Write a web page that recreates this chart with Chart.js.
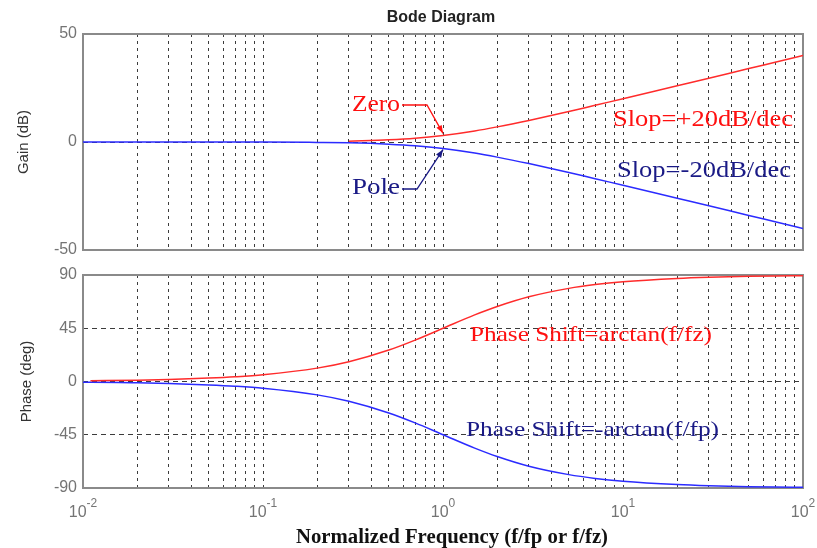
<!DOCTYPE html>
<html>
<head>
<meta charset="utf-8">
<script src="https://cdn.jsdelivr.net/npm/chart.js@4.4.0/dist/chart.umd.min.js"></script>
<style>
  body { margin: 0; background: #fff; }
  #wrap { position: relative; width: 817px; height: 548px; }
  #wrap canvas { position: absolute; left: 0; top: 0; }
</style>
</head>
<body>
<div id="wrap">
  <canvas id="gainChart" width="817" height="548"></canvas>
  <canvas id="phaseChart" width="817" height="548"></canvas>
</div>
<script>
// ---------------- Data ----------------
const freq      = [0.01, 0.011, 0.02, 0.03, 0.05, 0.07, 0.1, 0.2, 0.3, 0.5, 0.7, 1, 1.5, 2, 3, 5, 7, 10, 20, 30, 50, 70, 100];
const zeroGain  = [null, null, null, null, null, null, null, null, 0.4, 1.0, 1.7, 3.0, 5.1, 7.0, 10.0, 14.1, 17.0, 20.0, 26.0, 29.5, 34.0, 36.9, 40.0];
const poleGain  = [0, 0, 0, 0, 0, 0, 0, -0.2, -0.4, -1.0, -1.7, -3.0, -5.1, -7.0, -10.0, -14.1, -17.0, -20.0, -26.0, -29.5, -34.0, -36.9, -40.0];
const zeroPhase = [null, 0.6, 1.1, 1.7, 2.9, 4.0, 5.7, 11.3, 16.7, 26.6, 35.0, 45.0, 56.3, 63.4, 71.6, 78.7, 81.9, 84.3, 87.1, 88.1, 88.9, 89.2, 89.4];
const polePhase = [-0.6, -0.6, -1.1, -1.7, -2.9, -4.0, -5.7, -11.3, -16.7, -26.6, -35.0, -45.0, -56.3, -63.4, -71.6, -78.7, -81.9, -84.3, -87.1, -88.1, -88.9, -89.2, -89.4];

const gainTicks = [-50, 0, 50];
const phaseTicks = [-90, -45, 0, 45, 90];
const decadeTicks = [0.01, 0.1, 1, 10, 100];
const decadeExponents = ["-2", "-1", "0", "1", "2"];

// ---------------- Styles ----------------
const RED = "#ff2b2b";
const BLUE = "#2b2bff";
const TXT_RED = "#ff1010";
const TXT_BLUE = "#1a1a86";
const GRID = "#3c3c3c";
const FRAME = "#8a8a8a";
const TICK_TXT = "#747474";
const SANS = "'Liberation Sans', Arial, sans-serif";
const SERIF = "'Liberation Serif', 'Times New Roman', serif";

// minor + major grid positions for the log axis
const xGrid = [];
decadeTicks.forEach((d, i) => {
  if (i === decadeTicks.length - 1) { xGrid.push(d); return; }
  for (let k = 1; k <= 9; k++) xGrid.push(+(k * d).toPrecision(3));
});

const pts = ys => freq.map((f, i) => ({ x: f, y: ys[i] }));

// ---------------- Helpers for drawing ----------------
function drawFrame(chart) {
  const { ctx, chartArea: a } = chart;
  ctx.save();
  ctx.strokeStyle = FRAME;
  ctx.lineWidth = 2;
  ctx.strokeRect(a.left, a.top, a.right - a.left, a.bottom - a.top);
  ctx.restore();
}

// serif label stretched to the width seen in the picture
function serifText(ctx, text, x, baseline, width, color, size, weight) {
  ctx.save();
  ctx.font = (weight || "normal") + " " + size + "px " + SERIF;
  ctx.fillStyle = color;
  ctx.textBaseline = "alphabetic";
  const w = ctx.measureText(text).width;
  ctx.translate(x, baseline);
  ctx.scale(width / w, 1);
  ctx.fillText(text, 0, 0);
  ctx.restore();
}

function arrow(ctx, path, color) {
  ctx.save();
  ctx.strokeStyle = color;
  ctx.fillStyle = color;
  ctx.lineWidth = 1.3;
  ctx.beginPath();
  ctx.moveTo(path[0][0], path[0][1]);
  for (let i = 1; i < path.length; i++) ctx.lineTo(path[i][0], path[i][1]);
  ctx.stroke();
  const [x1, y1] = path[path.length - 2];
  const [x2, y2] = path[path.length - 1];
  const ang = Math.atan2(y2 - y1, x2 - x1);
  ctx.translate(x2, y2);
  ctx.rotate(ang);
  ctx.beginPath();
  ctx.moveTo(0, 0);
  ctx.lineTo(-8, -3);
  ctx.lineTo(-8, 3);
  ctx.closePath();
  ctx.fill();
  ctx.restore();
}

// ---------------- Shared options ----------------
function makeOptions(yMin, yMax, yTickList, yTitle, titlePad, padding) {
  return {
    responsive: false,
    animation: false,
    layout: { padding: padding },
    plugins: { legend: { display: false }, tooltip: { enabled: false } },
    elements: { point: { radius: 0 }, line: { borderWidth: 1.5, cubicInterpolationMode: "monotone" } },
    scales: {
      x: {
        type: "logarithmic",
        min: 0.01,
        max: 100,
        afterBuildTicks: s => { s.ticks = xGrid.map(v => ({ value: v })); },
        afterFit: s => { s.height = 0; },
        ticks: { display: false },
        grid: { color: GRID, lineWidth: 1, drawTicks: false },
        border: { display: false, dash: [3, 4] }
      },
      y: {
        min: yMin,
        max: yMax,
        afterBuildTicks: s => { s.ticks = yTickList.map(v => ({ value: v })); },
        afterFit: s => { s.width = 83; },
        ticks: { color: TICK_TXT, font: { family: SANS, size: 16 }, padding: 6 },
        grid: { color: GRID, lineWidth: 1, drawTicks: false },
        border: { display: false, dash: [5, 4] },
        title: { display: true, text: yTitle, color: "#333", font: { family: SANS, size: 15 }, padding: { top: titlePad, bottom: 0 } }
      }
    }
  };
}

// ---------------- Gain chart ----------------
const gainDecor = {
  id: "gainDecor",
  beforeDatasetsDraw(chart) { drawFrame(chart); },
  afterDraw(chart) {
    const ctx = chart.ctx;
    const xs = chart.scales.x, ys = chart.scales.y;

    ctx.save();
    ctx.font = "bold 16px " + SANS;
    ctx.fillStyle = "#222";
    ctx.textAlign = "center";
    ctx.fillText("Bode Diagram", 441, 22);
    ctx.restore();

    const xTip = xs.getPixelForValue(1);
    serifText(ctx, "Zero", 352, 111, 48, TXT_RED, 23);
    arrow(ctx, [[402, 105], [427, 105], [xTip, ys.getPixelForValue(4)]], TXT_RED);
    serifText(ctx, "Pole", 352, 194, 48, TXT_BLUE, 23);
    arrow(ctx, [[402, 189], [417, 189], [xTip, ys.getPixelForValue(-3.5)]], TXT_BLUE);

    serifText(ctx, "Slop=+20dB/dec", 613, 126, 180, TXT_RED, 23);
    serifText(ctx, "Slop=-20dB/dec", 617, 177, 174, TXT_BLUE, 23);
  }
};

new Chart(document.getElementById("gainChart"), {
  type: "line",
  data: {
    datasets: [
      { label: "Zero", data: pts(zeroGain), borderColor: RED },
      { label: "Pole", data: pts(poleGain), borderColor: BLUE }
    ]
  },
  options: makeOptions(-50, 50, gainTicks, "Gain (dB)", 15, { left: 0, right: 14, top: 34, bottom: 298 }),
  plugins: [gainDecor]
});

// ---------------- Phase chart ----------------
const phaseDecor = {
  id: "phaseDecor",
  beforeDatasetsDraw(chart) { drawFrame(chart); },
  afterDraw(chart) {
    const ctx = chart.ctx;
    const xs = chart.scales.x;

    // decade labels 10^n with real superscripts
    ctx.save();
    ctx.fillStyle = TICK_TXT;
    ctx.textBaseline = "alphabetic";
    decadeTicks.forEach((d, i) => {
      const px = xs.getPixelForValue(d);
      ctx.font = "16px " + SANS;
      const wBase = ctx.measureText("10").width;
      ctx.font = "12px " + SANS;
      const wExp = ctx.measureText(decadeExponents[i]).width;
      const start = px - (wBase + wExp) / 2;
      ctx.font = "16px " + SANS;
      ctx.fillText("10", start, 517);
      ctx.font = "12px " + SANS;
      ctx.fillText(decadeExponents[i], start + wBase, 507);
    });
    ctx.restore();

    serifText(ctx, "Phase Shift=arctan(f/fz)", 470, 341, 242, TXT_RED, 22);
    serifText(ctx, "Phase Shift=-arctan(f/fp)", 466, 436, 253, TXT_BLUE, 22);
    serifText(ctx, "Normalized Frequency (f/fp or f/fz)", 296, 543, 312, "#111", 20, "bold");
  }
};

new Chart(document.getElementById("phaseChart"), {
  type: "line",
  data: {
    datasets: [
      { label: "Zero phase", data: pts(zeroPhase), borderColor: RED },
      { label: "Pole phase", data: pts(polePhase), borderColor: BLUE }
    ]
  },
  options: makeOptions(-90, 90, phaseTicks, "Phase (deg)", 18, { left: 0, right: 14, top: 275, bottom: 60 }),
  plugins: [phaseDecor]
});
</script>
</body>
</html>
